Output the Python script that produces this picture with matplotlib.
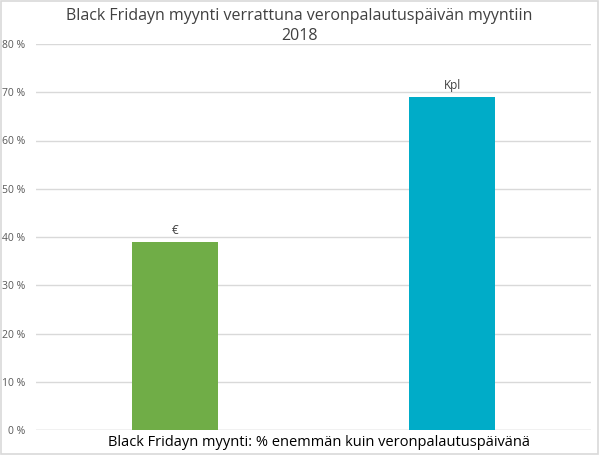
import matplotlib.pyplot as plt
from matplotlib.patches import Rectangle

plt.rcParams['font.family'] = ['Open Sans', 'DejaVu Sans']

labels = ["€", "Kpl"]
values = [39, 69]
colors = ["#70AD47", "#00ACC8"]
yticks = [0, 10, 20, 30, 40, 50, 60, 70, 80]

fig = plt.figure(figsize=(5.99, 4.55), dpi=100)
ax = fig.add_axes([36/599, 1 - 430/455, (591-36)/599, (430-44)/455])

x = range(len(values))
ax.bar(x, values, width=0.31, color=colors, zorder=3)
for xi, v, lab in zip(x, values, labels):
    ax.text(xi, v + 1.0, lab, ha="center", va="bottom", fontsize=8.5, color="#404040")

ax.set_xlim(-0.5, 1.5)
ax.set_ylim(0, 80)
ax.set_yticks(yticks)
ax.set_yticklabels([f"{t} %" for t in yticks], fontsize=7.5, color="#595959")
ax.set_xticks([])
ax.yaxis.grid(True, color="#D9D9D9", linewidth=1, zorder=0)
ax.tick_params(axis="y", length=0, pad=8)
for s in ax.spines.values():
    s.set_visible(False)
ax.axhline(0, color="#D9D9D9", linewidth=1, zorder=1)

fig.text(0.5, 1 - 8/455, "Black Fridayn myynti verrattuna veronpalautuspäivän myyntiin\n2018",
         ha="center", va="top", fontsize=11.5, color="#404040", linespacing=1.35)
fig.text(319/599, 1 - 442/455, "Black Fridayn myynti: % enemmän kuin veronpalautuspäivänä",
         ha="center", va="center", fontsize=10.5, color="#000000")

fig.patches.append(Rectangle((0.002, 0.002), 0.996, 0.996, transform=fig.transFigure,
                             fill=False, edgecolor="#D9D9D9", linewidth=1.2))

fig.savefig("out.png", dpi=100)
